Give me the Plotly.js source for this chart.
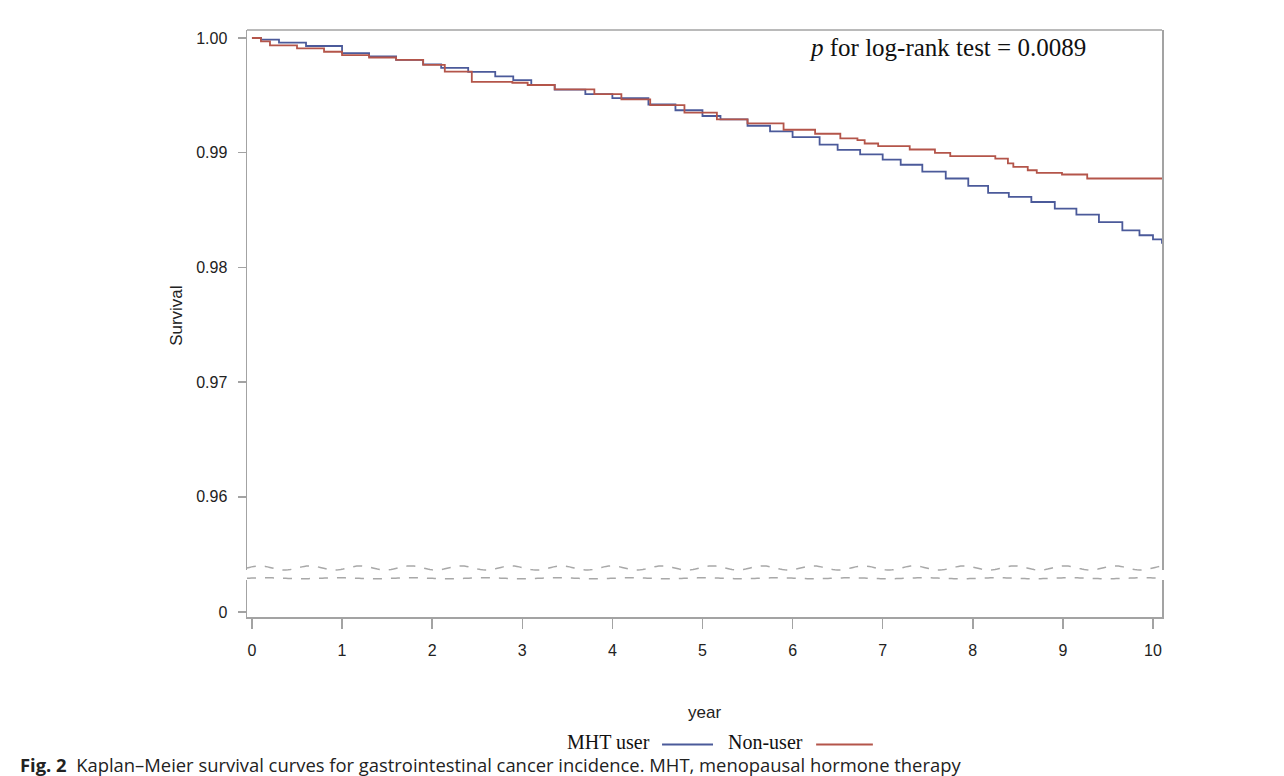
<!DOCTYPE html>
<html>
<head>
<meta charset="utf-8">
<script src="https://cdn.plot.ly/plotly-3.0.1.min.js"></script>
<style>
  html, body { margin: 0; padding: 0; background: #fff; }
  #frame { position: absolute; left: 2px; top: 2px; width: 1320px; height: 800px;
           border: 1px solid #9a9a9a; border-radius: 10px; box-sizing: border-box; }
  #chart { position: absolute; left: 0; top: 0; width: 1284px; height: 776px; }
</style>
</head>
<body>
<div id="frame"></div>
<div id="chart"></div>
<script>
// ---- Data ----
const seriesNames = ["MHT user", "Non-user"];
const seriesColors = ["#4b5a9a", "#b4554a"];

const mhtYears = [0, 0.1, 0.3, 0.6, 1.0, 1.3, 1.6, 1.9, 2.1, 2.4, 2.7, 2.9, 3.1, 3.36, 3.7, 4.0, 4.4, 4.7, 5.0, 5.2, 5.5, 5.75, 6.0, 6.3, 6.5, 6.75, 7.0, 7.2, 7.44, 7.7, 7.95, 8.17, 8.4, 8.65, 8.91, 9.15, 9.4, 9.66, 9.85, 10.0, 10.1];
const mhtSurv  = [1.0, 0.99985, 0.9996, 0.9993, 0.99868, 0.9984, 0.9981, 0.9977, 0.9974, 0.99705, 0.99665, 0.99633, 0.9959, 0.9955, 0.9951, 0.99475, 0.9942, 0.9937, 0.9932, 0.9929, 0.99235, 0.99185, 0.99135, 0.9907, 0.99025, 0.98985, 0.9894, 0.98895, 0.98835, 0.98775, 0.9871, 0.9865, 0.98615, 0.9857, 0.98513, 0.9846, 0.98395, 0.98323, 0.9828, 0.98245, 0.98207];

const nonYears = [0, 0.1, 0.2, 0.5, 0.8, 1.0, 1.3, 1.6, 1.9, 2.14, 2.44, 2.89, 3.06, 3.36, 3.8, 4.1, 4.42, 4.8, 5.16, 5.5, 5.9, 6.25, 6.53, 6.72, 6.8, 6.95, 7.3, 7.58, 7.75, 8.25, 8.39, 8.45, 8.61, 8.71, 8.99, 9.27, 10.1];
const nonSurv  = [1.0, 0.9997, 0.99935, 0.9991, 0.9988, 0.9985, 0.9983, 0.9981, 0.99765, 0.99706, 0.99618, 0.9961, 0.9959, 0.99552, 0.9951, 0.99465, 0.99415, 0.9935, 0.9929, 0.99255, 0.992, 0.99165, 0.99124, 0.99109, 0.9908, 0.99057, 0.99028, 0.98999, 0.9897, 0.98949, 0.98906, 0.98876, 0.98847, 0.98824, 0.9881, 0.98775, 0.98775];

const yTickVals = [0.96, 0.97, 0.98, 0.99, 1.00];
const yTickText = ["0.96", "0.97", "0.98", "0.99", "1.00"];
const yLowTickVals = [0];
const yLowTickText = ["0"];
const xTickVals = [0, 1, 2, 3, 4, 5, 6, 7, 8, 9, 10];

const pText = "<i>p</i> for log-rank test = 0.0089";
const xTitle = "year";
const yTitle = "Survival";
const caption = "<b>Fig. 2</b>  Kaplan–Meier survival curves for gastrointestinal cancer incidence. MHT, menopausal hormone therapy";

// ---- Traces ----
const traces = [
  {x: mhtYears, y: mhtSurv, name: seriesNames[0], type: "scatter", mode: "lines",
   line: {shape: "hv", color: seriesColors[0], width: 1.8}, xaxis: "x", yaxis: "y", showlegend: false},
  {x: nonYears, y: nonSurv, name: seriesNames[1], type: "scatter", mode: "lines",
   line: {shape: "hv", color: seriesColors[1], width: 1.8}, xaxis: "x", yaxis: "y", showlegend: false},
  // empty trace so the lower (broken-axis) panel exists
  {x: [], y: [], type: "scatter", mode: "lines", xaxis: "x", yaxis: "y2", showlegend: false, hoverinfo: "skip"}
];

// ---- Layout helpers ----
const axisGray = "#a3a3a3";
const tickFont = {family: "Liberation Sans, Arial, sans-serif", size: 16, color: "#222"};

// wavy break line (decoration) in paper coordinates
function wavyPath(yPaper, ampPaper, periodPaper) {
  let d = "";
  const n = 400;
  for (let i = 0; i <= n; i++) {
    const xp = i / n;
    const yp = yPaper + ampPaper * Math.sin(2 * Math.PI * xp / periodPaper);
    d += (i === 0 ? "M" : "L") + xp.toFixed(4) + "," + yp.toFixed(5);
  }
  return d;
}

const shapes = [
  // top frame line
  {type: "line", xref: "paper", yref: "paper", x0: 0, x1: 1, y0: 1, y1: 1,
   line: {color: axisGray, width: 1.5}},
  // break lines
  {type: "path", xref: "paper", yref: "paper", path: wavyPath(0.0835, 0.0035, 0.055),
   line: {color: "#a8a8a8", width: 1.5, dash: "dash"}},
  {type: "path", xref: "paper", yref: "paper", path: wavyPath(0.066, 0.0008, 0.08),
   line: {color: "#a8a8a8", width: 1.5, dash: "dash"}}
];

// legend built with text + line sample (sample after the text, as in the figure)
const legendTextRight = [0.4426, 0.6098];
const legendLineX = [[0.4536, 0.5093], [0.622, 0.684]];
const legendY = -0.213;
const annotations = [
  {xref: "paper", yref: "paper", x: 0.766, y: 0.971, text: pText, showarrow: false,
   font: {family: "Liberation Serif, Times New Roman, serif", size: 25, color: "#111"},
   xanchor: "center", yanchor: "middle"},
  {xref: "paper", yref: "paper", x: -0.0765, y: 0.513, text: yTitle, showarrow: false,
   textangle: -90, font: {family: "Liberation Sans, Arial, sans-serif", size: 17, color: "#222"},
   xanchor: "center", yanchor: "middle"},
  {xref: "paper", yref: "paper", x: 0.5005, y: -0.162, text: xTitle, showarrow: false,
   font: {family: "Liberation Sans, Arial, sans-serif", size: 17, color: "#222"},
   xanchor: "center", yanchor: "middle"},
  {xref: "paper", yref: "paper", x: -0.2503, y: -0.252, text: caption, showarrow: false,
   font: {family: "Open Sans, Noto Sans, sans-serif", size: 18.4, color: "#222"},
   xanchor: "left", yanchor: "middle"}
];
seriesNames.forEach((nm, i) => {
  annotations.push({xref: "paper", yref: "paper", x: legendTextRight[i], y: legendY, text: nm,
    showarrow: false, xanchor: "right", yanchor: "middle",
    font: {family: "Liberation Serif, Times New Roman, serif", size: 20, color: "#111"}});
  shapes.push({type: "line", xref: "paper", yref: "paper", x0: legendLineX[i][0], x1: legendLineX[i][1],
    y0: legendY - 0.004, y1: legendY - 0.004, line: {color: seriesColors[i], width: 2}});
});

const layout = {
  width: 1284, height: 776,
  margin: {l: 247, r: 122, t: 30, b: 159},
  paper_bgcolor: "#fff", plot_bgcolor: "#fff",
  showlegend: false,
  xaxis: {
    range: [-0.055, 10.1], anchor: "y2", domain: [0, 1],
    tickvals: xTickVals, ticks: "outside", ticklen: 10, tickwidth: 1.5, tickcolor: axisGray,
    showline: true, linecolor: axisGray, linewidth: 1.5, showgrid: false, zeroline: false,
    tickfont: tickFont, ticklabelstandoff: 8
  },
  yaxis: {
    domain: [0.0801, 1], range: [0.953618, 1.000697], anchor: "x",
    tickvals: yTickVals, ticktext: yTickText, ticks: "outside", ticklen: 8, tickwidth: 1.5,
    tickcolor: axisGray, showline: true, mirror: true, linecolor: axisGray, linewidth: 1.5,
    showgrid: false, zeroline: false, tickfont: tickFont, ticklabelstandoff: 7
  },
  yaxis2: {
    domain: [0, 0.063], range: [-5, 32], anchor: "x",
    tickvals: yLowTickVals, ticktext: yLowTickText, ticks: "outside", ticklen: 8, tickwidth: 1.5,
    tickcolor: axisGray, showline: true, mirror: true, linecolor: axisGray, linewidth: 1.5,
    showgrid: false, zeroline: false, tickfont: tickFont, ticklabelstandoff: 7
  },
  shapes: shapes,
  annotations: annotations
};

Plotly.newPlot("chart", traces, layout, {displayModeBar: false, staticPlot: true});
</script>
</body>
</html>
